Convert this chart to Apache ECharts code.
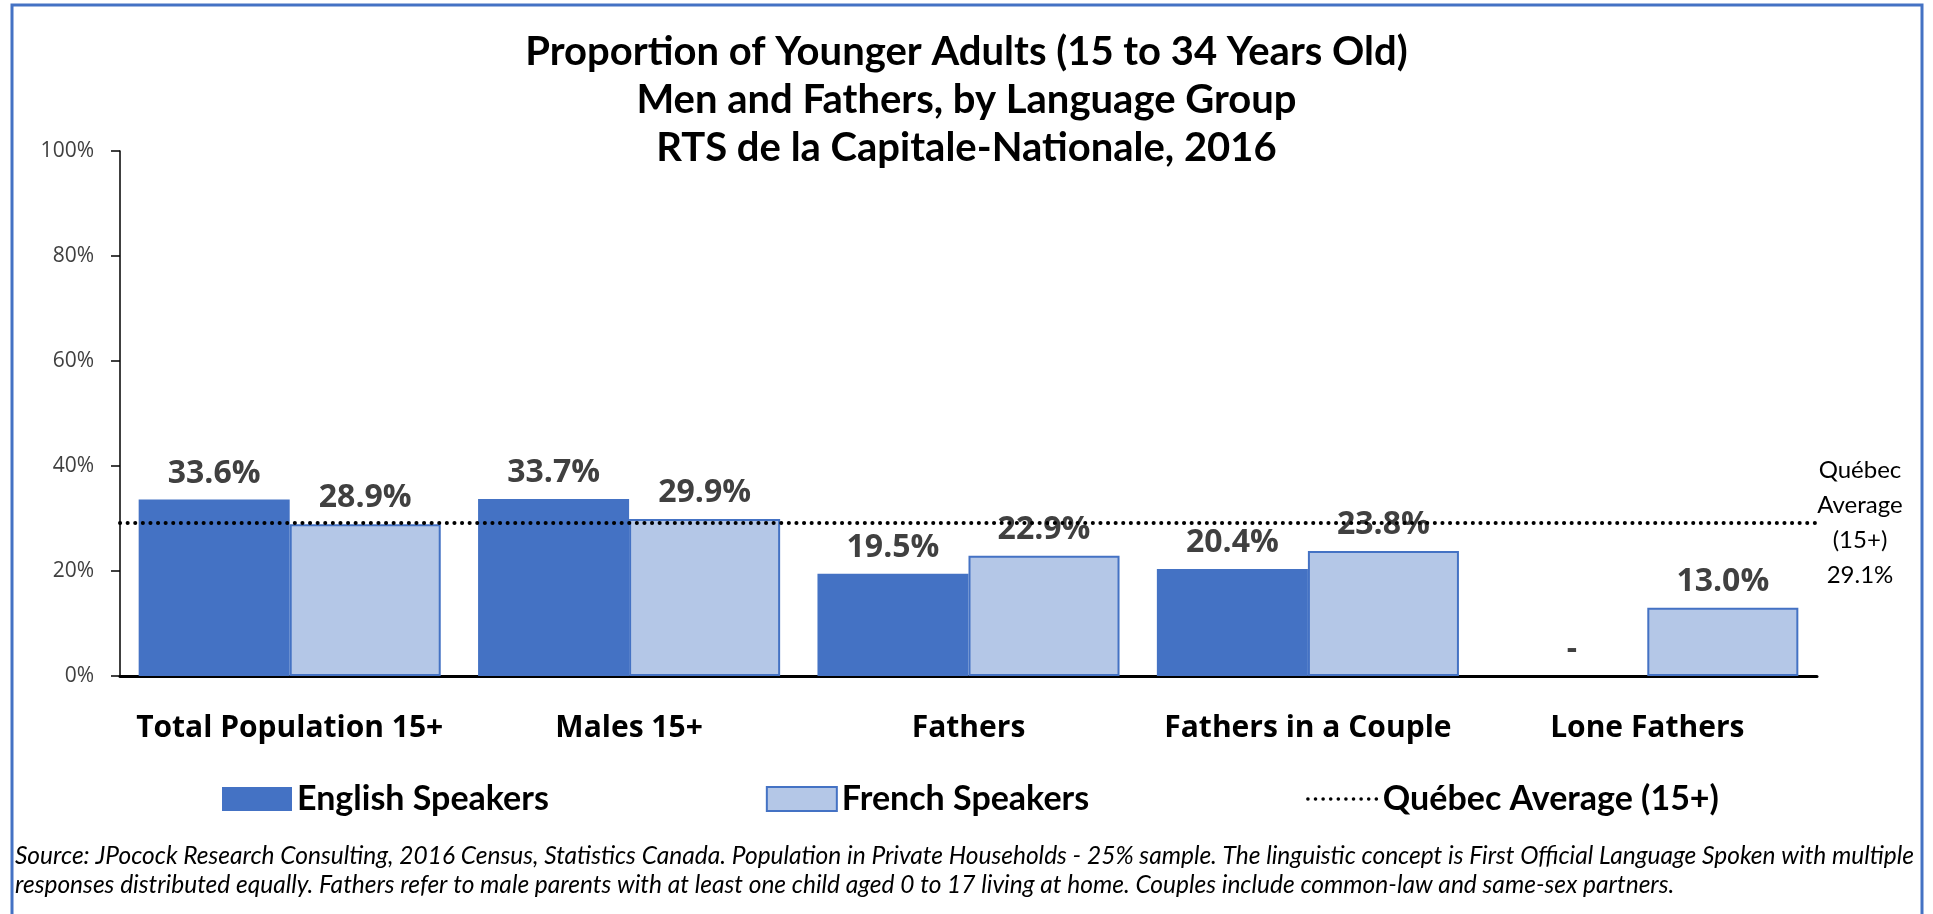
<!DOCTYPE html>
<html>
<head>
<meta charset="utf-8">
<script src="https://cdn.jsdelivr.net/npm/echarts@6/dist/echarts.min.js"></script>
<style>
  html, body { margin: 0; padding: 0; background: #fff; }
  #chart { width: 1933px; height: 914px; }
</style>
</head>
<body>
<div id="chart"></div>
<script>
// values
const categories = ['Total Population 15+', 'Males 15+', 'Fathers', 'Fathers in a Couple', 'Lone Fathers']
const englishSpeakers = [33.6, 33.7, 19.5, 20.4, 0]
const frenchSpeakers = [28.9, 29.9, 22.9, 23.8, 13.0]
const quebecAverage = 29.1
const yTicks = [0, 20, 40, 60, 80, 100]

const titleLines = [
  'Proportion of Younger Adults (15 to 34 Years Old)',
  'Men and Fathers, by Language Group',
  'RTS de la Capitale-Nationale, 2016',
]
const sourceLines = [
  'Source: JPocock Research Consulting, 2016 Census, Statistics Canada. Population in Private Households - 25% sample. The linguistic concept is First Official Language Spoken with multiple',
  'responses distributed equally. Fathers refer to male parents with at least one child aged 0 to 17 living at home. Couples include common-law and same-sex partners.',
]

const chart = echarts.init(document.getElementById('chart'))

// Excel shows a zero as a dash
const pct = (v) => (v === 0 ? '-' : v.toFixed(1) + '%')

const barLabel = {
  show: true,
  position: 'top',
  distance: 10,
  formatter: (p) => pct(p.value),
  fontFamily: 'Open Sans',
  fontWeight: 'bold',
  fontSize: 32,
  color: '#404040',
}

chart.setOption({
  animation: false,
  backgroundColor: '#fff',
  title: [
    {
      text: titleLines.join('\n'),
      left: 'center',
      top: 28,
      padding: 0,
      textStyle: { fontFamily: 'Lato', fontWeight: 'bold', fontSize: 40, lineHeight: 48, color: '#000' },
    },
    {
      text: sourceLines.join('\n'),
      left: 15,
      top: 842,
      padding: 0,
      textStyle: { fontFamily: 'Lato', fontStyle: 'italic', fontWeight: 'normal', fontSize: 24.5, lineHeight: 29, color: '#000' },
    },
  ],
  legend: {
    left: 222,
    top: 782,
    padding: 0,
    itemWidth: 70,
    itemHeight: 24,
    itemGap: 217,
    textStyle: { fontFamily: 'Lato', fontWeight: 'bold', fontSize: 34, color: '#000' },
    data: [
      { name: 'English Speakers', icon: 'rect' },
      { name: 'French Speakers', icon: 'rect' },
      { name: 'Québec Average (15+)', itemStyle: { opacity: 0 }, lineStyle: { width: 3.5 } },
    ],
  },
  grid: { left: 120, right: 116, top: 151, bottom: 238 },
  xAxis: {
    type: 'category',
    data: categories,
    axisLine: { lineStyle: { color: '#000', width: 3 } },
    axisTick: { show: false },
    axisLabel: { interval: 0, margin: 37, fontFamily: 'Open Sans', fontWeight: 'bold', fontSize: 30, color: '#000' },
  },
  yAxis: {
    type: 'value',
    min: yTicks[0],
    max: yTicks[yTicks.length - 1],
    interval: yTicks[1] - yTicks[0],
    axisLine: { show: true, lineStyle: { color: '#000', width: 1.5 } },
    axisTick: { show: true, length: 9, lineStyle: { color: '#000', width: 1.5 } },
    splitLine: { show: false },
    axisLabel: { margin: 26, formatter: '{value}%', fontFamily: 'Open Sans', fontSize: 21, color: '#404040' },
  },
  series: [
    {
      name: 'English Speakers',
      type: 'bar',
      data: englishSpeakers,
      barGap: '0%',
      barCategoryGap: '11%',
      itemStyle: { color: '#4472C4' },
      label: barLabel,
    },
    {
      name: 'French Speakers',
      type: 'bar',
      data: frenchSpeakers,
      itemStyle: { color: '#B4C7E7', borderColor: '#4472C4', borderWidth: 2 },
      label: barLabel,
    },
    {
      name: 'Québec Average (15+)',
      type: 'line',
      data: [],
      symbol: 'none',
      lineStyle: { color: '#000', width: 3.5, type: [0.1, 7.5], cap: 'round' },
      itemStyle: { color: '#000' },
      markLine: {
        silent: true,
        symbol: 'none',
        lineStyle: { color: '#000', width: 4, type: [0.1, 7.5], cap: 'round' },
        label: {
          show: true,
          position: 'end',
          distance: 43,
          align: 'center',
          formatter: 'Québec\nAverage\n(15+)\n' + quebecAverage.toFixed(1) + '%',
          fontFamily: 'Lato',
          fontSize: 24,
          lineHeight: 35,
          color: '#000',
        },
        data: [{ yAxis: quebecAverage }],
      },
    },
  ],
  graphic: [
    {
      type: 'rect',
      shape: { x: 12, y: 5, width: 1910, height: 930 },
      style: { fill: 'none', stroke: '#4472C4', lineWidth: 3 },
      silent: true,
    },
  ],
})
</script>
</body>
</html>
